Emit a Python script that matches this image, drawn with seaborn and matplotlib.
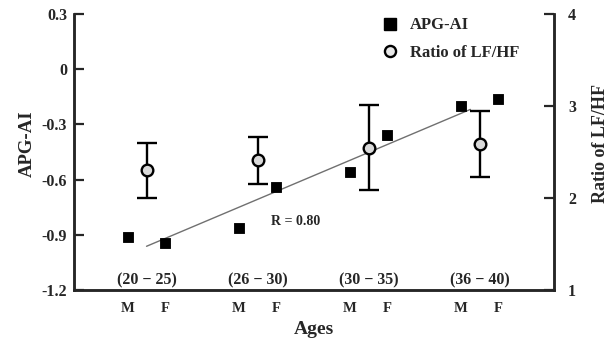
import numpy as np
import pandas as pd
import matplotlib
matplotlib.use("Agg")
import matplotlib.pyplot as plt
from matplotlib.lines import Line2D
import seaborn as sns

# data
gruppi = ['(20 \u2212 25)', '(26 \u2212 30)', '(30 \u2212 35)', '(36 \u2212 40)']
sessi = ['M', 'F']
apg_ai = [-0.912, -0.945, -0.863, -0.640, -0.559, -0.358, -0.200, -0.162]
lfhf_media = [2.30, 2.41, 2.54, 2.59]
lfhf_sup = [2.60, 2.66, 3.01, 2.95]
lfhf_inf = [2.00, 2.15, 2.09, 2.23]
r_testo = 'R = 0.80'

sns.set_style("ticks")
plt.rcParams['font.family'] = ['Liberation Serif', 'DejaVu Serif']
plt.rcParams['font.weight'] = 'bold'

# posizioni: M e F di ogni fascia d'eta
xpos = []
for i in range(len(gruppi)):
    xpos += [3 * i, 3 * i + 1]
xcentri = [3 * i + 0.5 for i in range(len(gruppi))]

dfq = pd.DataFrame({'x': xpos, 'apg': apg_ai})
dfc = pd.DataFrame({'x': xcentri, 'lfhf': lfhf_media,
                    'sup': lfhf_sup, 'inf': lfhf_inf})

fig = plt.figure(figsize=(6.11, 3.44), dpi=100)
ax = fig.add_axes([74 / 611, 1 - 290 / 344, (554 - 74) / 611, (290 - 14) / 344])
ax2 = ax.twinx()

# retta di regressione
coef = np.polyfit(dfq['x'], dfq['apg'], 1)
xl = np.array([0.5, 9.25])
ax.plot(xl, np.polyval(coef, xl), color='#707070', lw=1.0, zorder=2)

sns.scatterplot(data=dfq, x='x', y='apg', ax=ax, marker='s', s=60,
                color='black', edgecolor='black', zorder=3, legend=False)

ax2.errorbar(dfc['x'], dfc['lfhf'],
             yerr=[dfc['lfhf'] - dfc['inf'], dfc['sup'] - dfc['lfhf']],
             fmt='none', ecolor='black', elinewidth=1.7, capsize=7,
             capthick=1.7, zorder=3)
sns.scatterplot(data=dfc, x='x', y='lfhf', ax=ax2, marker='o', s=70,
                color='#d9d9d9', edgecolor='black', linewidth=1.7,
                zorder=4, legend=False)

ax.set_xlim(-1.46, 11.51)
ax.set_ylim(-1.2, 0.3)
ax2.set_ylim(1, 4)
ax.set_yticks([0.3, 0, -0.3, -0.6, -0.9, -1.2])
ax.set_yticklabels(['0.3', '0', '-0.3', '-0.6', '-0.9', '-1.2'])
ax2.set_yticks([1, 2, 3, 4])
ax.set_xticks(xpos)
ax.set_xticklabels(sessi * len(gruppi), fontsize=10.5)
ax.tick_params(axis='x', length=0, pad=9)
ax.tick_params(axis='y', direction='in', length=7, width=1.6, labelsize=11.5, pad=5)
ax2.tick_params(axis='y', direction='in', length=7, width=1.6, labelsize=11.5, pad=10)

for a in (ax, ax2):
    a.spines['top'].set_visible(False)
    for s in ('left', 'right', 'bottom'):
        a.spines[s].set_linewidth(1.8)
ax.set_xlabel('Ages', fontsize=14, fontweight='bold', labelpad=4)
ax.set_ylabel('APG-AI', fontsize=13.5, fontweight='bold')
ax.yaxis.set_label_coords(-0.08, 0.53)
ax2.set_ylabel('Ratio of LF/HF', fontsize=13, fontweight='bold', labelpad=14)
ax2.yaxis.set_label_coords(1.08, 0.53)

for xc, g in zip(xcentri, gruppi):
    ax.text(xc, 0.035, g, transform=ax.get_xaxis_transform(), ha='center',
            va='center', fontsize=11.5, fontweight='bold')
ax.text(3.86, -0.83, r_testo, ha='left', va='center', fontsize=10,
        fontweight='bold')

maniglie = [Line2D([], [], marker='s', color='black', ls='none', markersize=8),
            Line2D([], [], marker='o', color='black', markerfacecolor='#e8e8e8',
                   markeredgewidth=1.7, ls='none', markersize=8)]
ax.legend(maniglie, ['APG-AI', 'Ratio of LF/HF'], loc='upper left',
          bbox_to_anchor=(0.6, 1.03), frameon=False, fontsize=12,
          handletextpad=0.2, labelspacing=0.7, borderpad=0.2)

fig.savefig('out.png', dpi=100)
